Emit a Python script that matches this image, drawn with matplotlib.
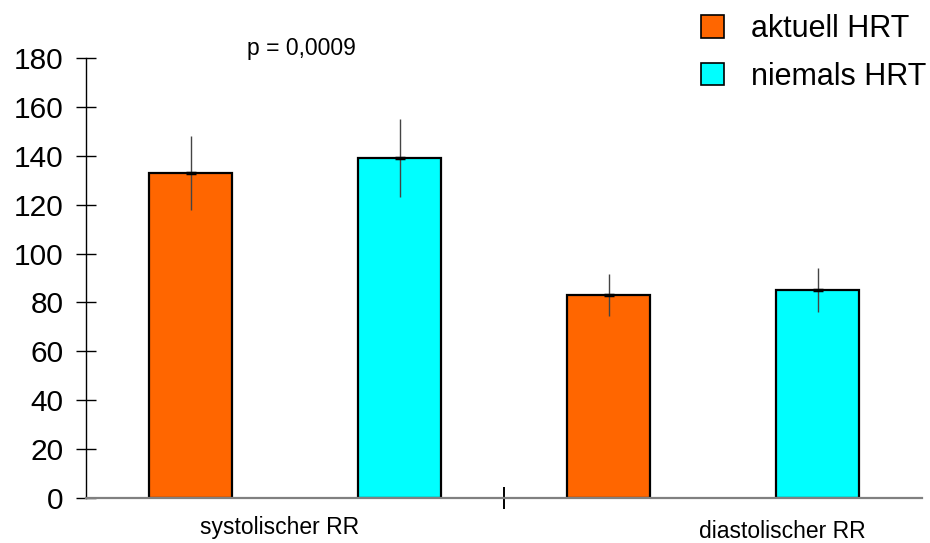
"""Blutdruck bei aktueller vs. niemals HRT, gruppiertes Balkendiagramm."""

import matplotlib.pyplot as plt
from matplotlib.axes import Axes
from matplotlib.figure import Figure
from matplotlib.patches import Patch

GROUPS = ("aktuell HRT", "niemals HRT")
COLORS = ("#FF6600", "#00FFFF")
CATEGORIES = ("systolischer RR", "diastolischer RR")
MEANS = {
    "aktuell HRT": [133, 83],
    "niemals HRT": [139, 85],
}
SDS = {
    "aktuell HRT": [15, 8.5],
    "niemals HRT": [16, 9],
}
P_TEXT = "p = 0,0009"
Y_TICKS = list(range(0, 181, 20))

plt.rcParams["font.family"] = ["Liberation Sans", "DejaVu Sans"]


def plot() -> tuple[Figure, Axes]:
    fig = plt.figure(figsize=(9.3, 5.43), dpi=100)
    ax: Axes = fig.add_axes((86 / 930, 45 / 543, 836 / 930, 440 / 543))

    width = 0.4
    for g, group in enumerate(GROUPS):
        xs = [c * 2 + g for c in range(len(CATEGORIES))]
        ax.bar(
            xs,
            MEANS[group],
            width=width,
            color=COLORS[g],
            edgecolor="black",
            linewidth=1.6,
            zorder=2,
        )
        ax.errorbar(
            xs,
            MEANS[group],
            yerr=SDS[group],
            fmt="none",
            ecolor="#444444",
            elinewidth=1.0,
            capsize=0,
            zorder=3,
        )
        ax.plot(xs, MEANS[group], ls="none", marker="_", ms=7, mew=2.5,
                color="black", zorder=4)

    ax.set_xlim(-0.5, 3.5)
    ax.set_ylim(0, 180)
    ax.set_yticks(Y_TICKS)
    ax.tick_params(axis="y", direction="inout", length=14, width=1,
                   labelsize=21.5, pad=9)

    # separator tick between the two groups, labels placed off-center
    ax.set_xticks([1.5])
    ax.set_xticklabels([""])
    ax.tick_params(axis="x", direction="inout", length=16.5, width=1.4)
    tr = ax.get_xaxis_transform()
    ax.text(0.426, -0.066, CATEGORIES[0], transform=tr, ha="center",
            va="center", fontsize=16.5)
    ax.text(2.83, -0.077, CATEGORIES[1], transform=tr, ha="center",
            va="center", fontsize=16.5)

    for s in ("top", "right"):
        ax.spines[s].set_visible(False)
    ax.spines["left"].set_linewidth(1)
    ax.spines["bottom"].set_color("#808080")
    ax.spines["bottom"].set_linewidth(1.6)

    ax.text(0.53, 184, P_TEXT, fontsize=16.5, ha="center", va="center",
            clip_on=False)

    handles = [Patch(facecolor=c, edgecolor="black", linewidth=1.2)
               for c in COLORS]
    fig.legend(
        handles,
        GROUPS,
        loc="upper right",
        bbox_to_anchor=(1.016, 1.008),
        fontsize=22,
        frameon=False,
        handlelength=0.75,
        handleheight=0.75,
        handletextpad=0.9,
        labelspacing=0.58,
        borderaxespad=0.2,
    )
    return fig, ax


def main():
    fig, _ = plot()
    fig.savefig("out.png", dpi=100)


if __name__ == "__main__":
    main()
